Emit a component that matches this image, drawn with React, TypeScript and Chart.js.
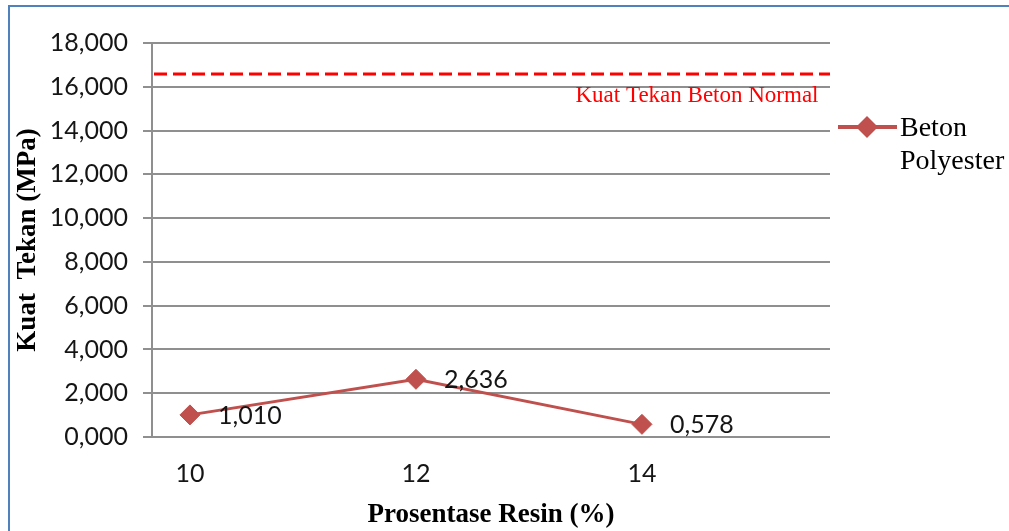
import React, { useEffect, useRef } from "react";
import { Chart, registerables } from "chart.js";

Chart.register(...registerables);

// ---- data ----
const resinPercent = [10, 12, 14];
const polyesterStrength = [1.01, 2.636, 0.578];
const seriesName = ["Beton", "Polyester"];
const normalStrength = 16.58;
const normalLabel = "Kuat Tekan Beton Normal";
const xAxisTitle = "Prosentase Resin (%)";
const yAxisTitle = "Kuat  Tekan (MPa)";
const xRange = [9.664, 15.664];
const yRange = [0, 18];
const yStep = 2;

const SERIES_COLOR = "#c0504d";
const GRID_COLOR = "#8f8f8f";
const TICK_FONT = "Lato";
const SERIF = "'Liberation Serif', 'DejaVu Serif', serif";

const fmt = (v: number) => v.toFixed(3).replace(".", ",");

const decorPlugin = {
  id: "decor",
  beforeDraw(chart: any) {
    const ctx = chart.ctx;
    ctx.save();
    ctx.fillStyle = "#ffffff";
    ctx.fillRect(0, 0, chart.width, chart.height);
    ctx.fillStyle = "#4f81bd";
    ctx.fillRect(8, 5, chart.width - 8, 2);
    ctx.fillRect(8, 5, 2, chart.height - 5);
    ctx.restore();
  },
  beforeDatasetsDraw(chart: any) {
    const { ctx, chartArea, scales } = chart;
    const y = scales.y.getPixelForValue(normalStrength);
    ctx.save();
    ctx.strokeStyle = "#ff0000";
    ctx.lineWidth = 3;
    ctx.setLineDash([13, 6]);
    ctx.beginPath();
    ctx.moveTo(chartArea.left + 2, y);
    ctx.lineTo(chartArea.right, y);
    ctx.stroke();
    ctx.setLineDash([]);
    ctx.fillStyle = "#ff0000";
    ctx.font = `23px ${SERIF}`;
    ctx.textAlign = "center";
    ctx.textBaseline = "middle";
    ctx.fillText(normalLabel, chartArea.right - 133, y + 22);
    ctx.restore();
  },
  afterDatasetsDraw(chart: any) {
    const { ctx, chartArea } = chart;
    const meta = chart.getDatasetMeta(0);
    ctx.save();
    ctx.fillStyle = "#151515";
    ctx.font = `25px ${TICK_FONT}`;
    ctx.textAlign = "left";
    ctx.textBaseline = "middle";
    meta.data.forEach((pt: any, i: number) => {
      ctx.fillText(fmt(polyesterStrength[i]), pt.x + 28, pt.y + 1);
    });
    // legend
    const lx = chartArea.right + 8;
    const ly = 127;
    ctx.strokeStyle = SERIES_COLOR;
    ctx.lineWidth = 4;
    ctx.beginPath();
    ctx.moveTo(lx, ly);
    ctx.lineTo(lx + 59, ly);
    ctx.stroke();
    const cx = lx + 29;
    const r = 11;
    ctx.fillStyle = SERIES_COLOR;
    ctx.beginPath();
    ctx.moveTo(cx - r, ly);
    ctx.lineTo(cx, ly - r);
    ctx.lineTo(cx + r, ly);
    ctx.lineTo(cx, ly + r);
    ctx.closePath();
    ctx.fill();
    ctx.fillStyle = "#000000";
    ctx.font = `28px ${SERIF}`;
    ctx.textBaseline = "alphabetic";
    ctx.fillText(seriesName[0], lx + 62, 136);
    ctx.fillText(seriesName[1], lx + 62, 169);
    ctx.restore();
  },
};

export default function App() {
  const ref = useRef<HTMLCanvasElement | null>(null);
  useEffect(() => {
    if (!ref.current) return;
    const chart = new Chart(ref.current, {
      type: "line",
      data: {
        datasets: [
          {
            label: seriesName.join(" "),
            data: resinPercent.map((x, i) => ({ x, y: polyesterStrength[i] })),
            borderColor: SERIES_COLOR,
            backgroundColor: SERIES_COLOR,
            borderWidth: 3,
            pointStyle: "rectRot",
            pointRadius: 10,
            pointBorderWidth: 1,
            pointBackgroundColor: SERIES_COLOR,
            pointBorderColor: SERIES_COLOR,
            tension: 0,
          },
        ],
      },
      options: {
        responsive: false,
        animation: false,
        events: [],
        layout: { padding: { left: 0, top: 43, right: 179, bottom: 0 } },
        plugins: {
          legend: { display: false },
          tooltip: { enabled: false },
          title: { display: false },
        },
        scales: {
          x: {
            type: "linear",
            min: xRange[0],
            max: xRange[1],
            afterBuildTicks: (scale: any) => {
              scale.ticks = resinPercent.map((v) => ({ value: v }));
            },
            afterFit: (scale: any) => {
              scale.height = 94;
            },
            grid: { display: false, drawTicks: false },
            border: { display: false },
            ticks: {
              padding: 22,
              color: "#151515",
              font: { family: TICK_FONT, size: 25 },
              maxRotation: 0,
              autoSkip: false,
              callback: (v: any) => String(v),
            },
            title: {
              display: true,
              text: xAxisTitle,
              color: "#000000",
              font: { family: SERIF, size: 27, weight: "bold" },
              padding: { top: 0, bottom: 0 },
            },
          },
          y: {
            min: yRange[0],
            max: yRange[1],
            afterFit: (scale: any) => {
              scale.width = 152;
            },
            grid: {
              color: GRID_COLOR,
              lineWidth: 2,
              drawTicks: true,
              tickLength: 9,
            },
            border: { display: true, color: GRID_COLOR, width: 2 },
            ticks: {
              stepSize: yStep,
              padding: 15,
              color: "#151515",
              font: { family: TICK_FONT, size: 25 },
              callback: (v: any) => fmt(Number(v)),
            },
            title: {
              display: true,
              text: yAxisTitle,
              color: "#000000",
              font: { family: SERIF, size: 27, weight: "bold" },
              padding: { top: 12, bottom: 0 },
            },
          },
        },
      },
      plugins: [decorPlugin],
    } as any);
    return () => chart.destroy();
  }, []);
  return (
    <div style={{ position: "fixed", left: 0, top: 0, width: 1009, height: 531, background: "#fff" }}>
      <canvas ref={ref} width={1009} height={531} style={{ display: "block", width: 1009, height: 531 }} />
    </div>
  );
}
